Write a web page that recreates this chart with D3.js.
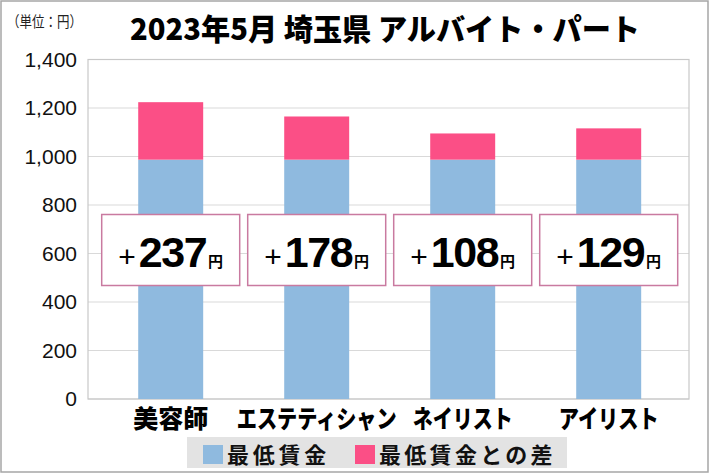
<!DOCTYPE html>
<html>
<head>
<meta charset="utf-8">
<script src="https://cdn.jsdelivr.net/npm/d3@7"></script>
<style>
  body { margin: 0; background: #fff; }
  svg { display: block; }
</style>
</head>
<body>
<div id="chart"></div>
<script>
// データ
const categories = ["美容師", "エステティシャン", "ネイリスト", "アイリスト"];
const minWage = [987, 987, 987, 987];
const diff = [237, 178, 108, 129];
const yTicks = [0, 200, 400, 600, 800, 1000, 1200, 1400];
const seriesNames = ["最低賃金", "最低賃金との差"];

const W = 712, H = 476;
const plot = { left: 88, right: 689, top: 59.5, bottom: 399 };
const colors = ["#8fbadf", "#fb4f86"];

const svg = d3.select("#chart")
  .append("svg")
  .attr("width", W)
  .attr("height", H);

svg.append("rect")
  .attr("width", W).attr("height", H)
  .style("fill", "#fff");

// 外枠
svg.append("rect")
  .attr("x", 1).attr("y", 1)
  .attr("width", 707).attr("height", 471)
  .style("fill", "none")
  .style("stroke", "#a6a6a6")
  .style("stroke-width", 1.5);

const y = d3.scaleLinear().domain([0, 1400]).range([plot.bottom, plot.top]);
const x = d3.scaleBand()
  .domain(categories)
  .range([97.7, 681.7])
  .paddingInner(0.555)
  .paddingOuter(0.2775);

// グリッド線
svg.append("g")
  .selectAll("line")
  .data(yTicks)
  .join("line")
  .attr("x1", plot.left).attr("x2", plot.right)
  .attr("y1", d => y(d)).attr("y2", d => y(d))
  .style("stroke", "#d9d9d9")
  .style("stroke-width", 1.2);

// プロット枠
svg.append("rect")
  .attr("x", plot.left).attr("y", plot.top)
  .attr("width", plot.right - plot.left)
  .attr("height", plot.bottom - plot.top)
  .style("fill", "none")
  .style("stroke", "#c8c8c8")
  .style("stroke-width", 1.2);

// Y軸
const yAxis = svg.append("g")
  .attr("transform", `translate(${plot.left},0)`)
  .call(d3.axisLeft(y).tickValues(yTicks).tickSize(0).tickPadding(11)
    .tickFormat(d3.format(",")));
yAxis.select(".domain").remove();
yAxis.selectAll("text")
  .style("font-family", "'Liberation Sans', Arial, sans-serif")
  .style("font-size", "21px")
  .style("fill", "#111");

// 積み上げ棒
const stacked = categories.map((c, i) => ({ cat: c, base: minWage[i], diff: diff[i] }));

svg.append("g")
  .selectAll("rect")
  .data(stacked)
  .join("rect")
  .attr("x", d => x(d.cat))
  .attr("width", x.bandwidth())
  .attr("y", d => y(d.base))
  .attr("height", d => y(0) - y(d.base))
  .style("fill", colors[0]);

svg.append("g")
  .selectAll("rect")
  .data(stacked)
  .join("rect")
  .attr("x", d => x(d.cat))
  .attr("width", x.bandwidth())
  .attr("y", d => y(d.base + d.diff))
  .attr("height", d => y(d.base) - y(d.base + d.diff))
  .style("fill", colors[1]);

// 差額ラベル
const boxW = 138, boxH = 71, boxTop = 214.5;
const labels = svg.append("g")
  .selectAll("g")
  .data(stacked)
  .join("g")
  .attr("transform", d => `translate(${x(d.cat) + x.bandwidth() / 2},${boxTop})`);

labels.append("rect")
  .attr("x", -boxW / 2).attr("y", 0)
  .attr("width", boxW).attr("height", boxH)
  .style("fill", "#fff")
  .style("stroke", "#c97aa0")
  .style("stroke-width", 1.5);

const lt = labels.append("text")
  .attr("x", 0).attr("y", 52)
  .attr("text-anchor", "middle")
  .style("font-family", "'Liberation Sans', Arial, sans-serif")
  .style("fill", "#000");
lt.append("tspan")
  .style("font-size", "30px")
  .text("+");
lt.append("tspan")
  .attr("dx", 3)
  .style("font-size", "43px")
  .style("font-weight", "bold")
  .style("letter-spacing", "-1.5px")
  .text(d => d.diff);
lt.append("tspan")
  .attr("dx", 2)
  .style("font-family", "'Noto Sans CJK JP', sans-serif")
  .style("font-size", "15px")
  .style("font-weight", "bold")
  .text("円");

// X軸ラベル（カタカナは元図のように横幅を詰める）
const isKana = ch => /[\u30A0-\u30FF]/.test(ch);
const labelWidth = s => d3.sum([...s], ch => isKana(ch) ? 20 : 26.5);
svg.append("g")
  .selectAll("g")
  .data(categories)
  .join("g")
  .attr("transform", d => `translate(${x(d) + x.bandwidth() / 2},428)`)
  .append("text")
  .attr("text-anchor", "middle")
  .style("font-family", "'Noto Sans CJK JP', sans-serif")
  .style("font-size", "25px")
  .style("font-weight", "900")
  .style("fill", "#000")
  .text(d => d)
  .each(function (d) {
    const k = Math.min(1, labelWidth(d) / this.getComputedTextLength());
    d3.select(this).attr("transform", `scale(${k},1)`);
  });

// タイトル
svg.append("text")
  .attr("x", 385).attr("y", 40)
  .attr("text-anchor", "middle")
  .attr("textLength", 510)
  .attr("lengthAdjust", "spacingAndGlyphs")
  .style("font-family", "'Noto Sans CJK JP', sans-serif")
  .style("font-size", "30px")
  .style("font-weight", "900")
  .style("fill", "#000")
  .text("2023年5月 埼玉県 アルバイト・パート");

svg.append("text")
  .attr("x", 7).attr("y", 27)
  .attr("textLength", 75)
  .attr("lengthAdjust", "spacingAndGlyphs")
  .style("font-family", "'Noto Sans CJK JP', sans-serif")
  .style("font-size", "15px")
  .style("fill", "#222")
  .text("（単位：円）");

// 凡例
const legend = svg.append("g");
legend.append("rect")
  .attr("x", 187).attr("y", 437)
  .attr("width", 380).attr("height", 31)
  .style("fill", "#e3e3e3");

const legendX = [203, 355];
const items = legend.selectAll("g")
  .data(seriesNames)
  .join("g")
  .attr("transform", (d, i) => `translate(${legendX[i]},445)`);
items.append("rect")
  .attr("width", 20).attr("height", 19)
  .style("fill", (d, i) => colors[i]);
items.append("text")
  .attr("x", 24).attr("y", 18)
  .attr("textLength", d => d.length * 24.8)
  .attr("lengthAdjust", "spacing")
  .style("font-family", "'Noto Sans CJK JP', sans-serif")
  .style("font-size", "22px")
  .style("font-weight", "bold")
  .style("fill", "#111")
  .text(d => d);
</script>
</body>
</html>
